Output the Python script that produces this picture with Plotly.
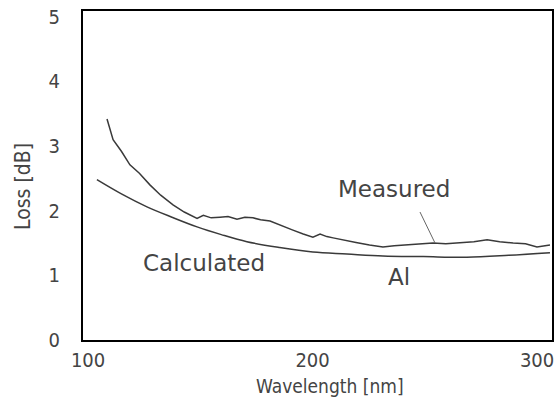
import plotly.graph_objects as go

# Measured loss (Al)
measured_wl = [107.1, 109.8, 113.5, 117.3, 121.5, 126.2, 131.0, 136.5, 141.5, 145.0, 147.2, 150.0,
               153.5, 157.4, 161.0, 165.0, 168.5, 172.1, 175.5, 179.7, 184.5, 189.9, 194.5, 198.8,
               202.0, 205.0, 207.8, 213.0, 218.0, 224.0, 230.0, 235.0, 240.0, 246.0, 252.3, 258.0,
               265.0, 270.5, 276.4, 282.0, 288.0, 293.5, 298.6, 304.4]
measured_loss = [3.42, 3.10, 2.92, 2.71, 2.58, 2.40, 2.24, 2.09, 1.98, 1.92, 1.88, 1.93,
                 1.89, 1.90, 1.91, 1.87, 1.90, 1.89, 1.86, 1.84, 1.77, 1.70, 1.64, 1.59,
                 1.64, 1.60, 1.58, 1.55, 1.51, 1.47, 1.44, 1.46, 1.47, 1.48, 1.50, 1.49,
                 1.51, 1.52, 1.55, 1.52, 1.50, 1.49, 1.44, 1.47]

# Calculated loss (Al)
calc_wl = [102.6, 113.5, 124.9, 136.0, 147.2, 158.0, 169.4, 184.0, 198.8, 214.0, 230.0, 248.0, 267.4, 286.0, 304.4]
calc_loss = [2.48, 2.26, 2.06, 1.90, 1.75, 1.63, 1.52, 1.43, 1.36, 1.33, 1.30, 1.29, 1.28, 1.31, 1.35]

x_ticks = [100, 200, 300]
y_ticks = [0, 1, 2, 3, 4, 5]

line_color = "#3a3a3a"
text_color = "#444444"

fig = go.Figure()
fig.add_trace(go.Scatter(x=measured_wl, y=measured_loss, mode="lines",
                         line=dict(color=line_color, width=1.5), name="Measured"))
fig.add_trace(go.Scatter(x=calc_wl, y=calc_loss, mode="lines", line_shape="spline",
                         line=dict(color=line_color, width=1.5), name="Calculated"))

label_font = dict(family="DejaVu Sans", size=23, color=text_color)
fig.add_annotation(x=235, y=2.33, text="Measured", showarrow=False, font=label_font)
fig.add_annotation(x=150.5, y=1.19, text="Calculated", showarrow=False, font=label_font)
fig.add_annotation(x=237, y=0.98, text="Al", showarrow=False, font=label_font)
fig.add_shape(type="line", x0=246.5, y0=1.98, x1=253.2, y1=1.50,
              line=dict(color="#666666", width=1))

tick_font = dict(family="DejaVu Sans Condensed", size=20, color=text_color)
title_font_x = dict(family="DejaVu Sans Condensed", size=19, color=text_color)
title_font_y = dict(family="DejaVu Sans Condensed", size=21, color=text_color)

fig.update_layout(
    width=555, height=403,
    margin=dict(l=83, r=3, t=11, b=63),
    paper_bgcolor="white", plot_bgcolor="white",
    showlegend=False,
    xaxis=dict(range=[96.4, 305.3], tickvals=x_ticks, ticks="", showgrid=False, zeroline=False,
               showline=True, linecolor="black", linewidth=2, mirror=True,
               tickfont=tick_font, ticklabelstandoff=1, ticklabelshift=-3,
               ticklabeloverflow="allow", automargin=False),
    yaxis=dict(range=[0, 5.09], tickvals=y_ticks, ticks="", showgrid=False, zeroline=False,
               showline=True, linecolor="black", linewidth=2, mirror=True,
               tickfont=tick_font, ticklabelstandoff=17, ticklabeloverflow="allow",
               automargin=False),
)
# axis titles placed as paper annotations
fig.add_annotation(xref="paper", yref="paper", x=0.527, y=0, yanchor="middle", yshift=-46,
                   text="Wavelength [nm]", showarrow=False, font=title_font_x)
fig.add_annotation(xref="paper", yref="paper", x=0, xanchor="center", xshift=-60, y=0.465,
                   text="Loss [dB]", textangle=-90, showarrow=False, font=title_font_y)

fig.write_html("out.html", post_script="document.body.style.margin='0';",
               config={"displayModeBar": False})
